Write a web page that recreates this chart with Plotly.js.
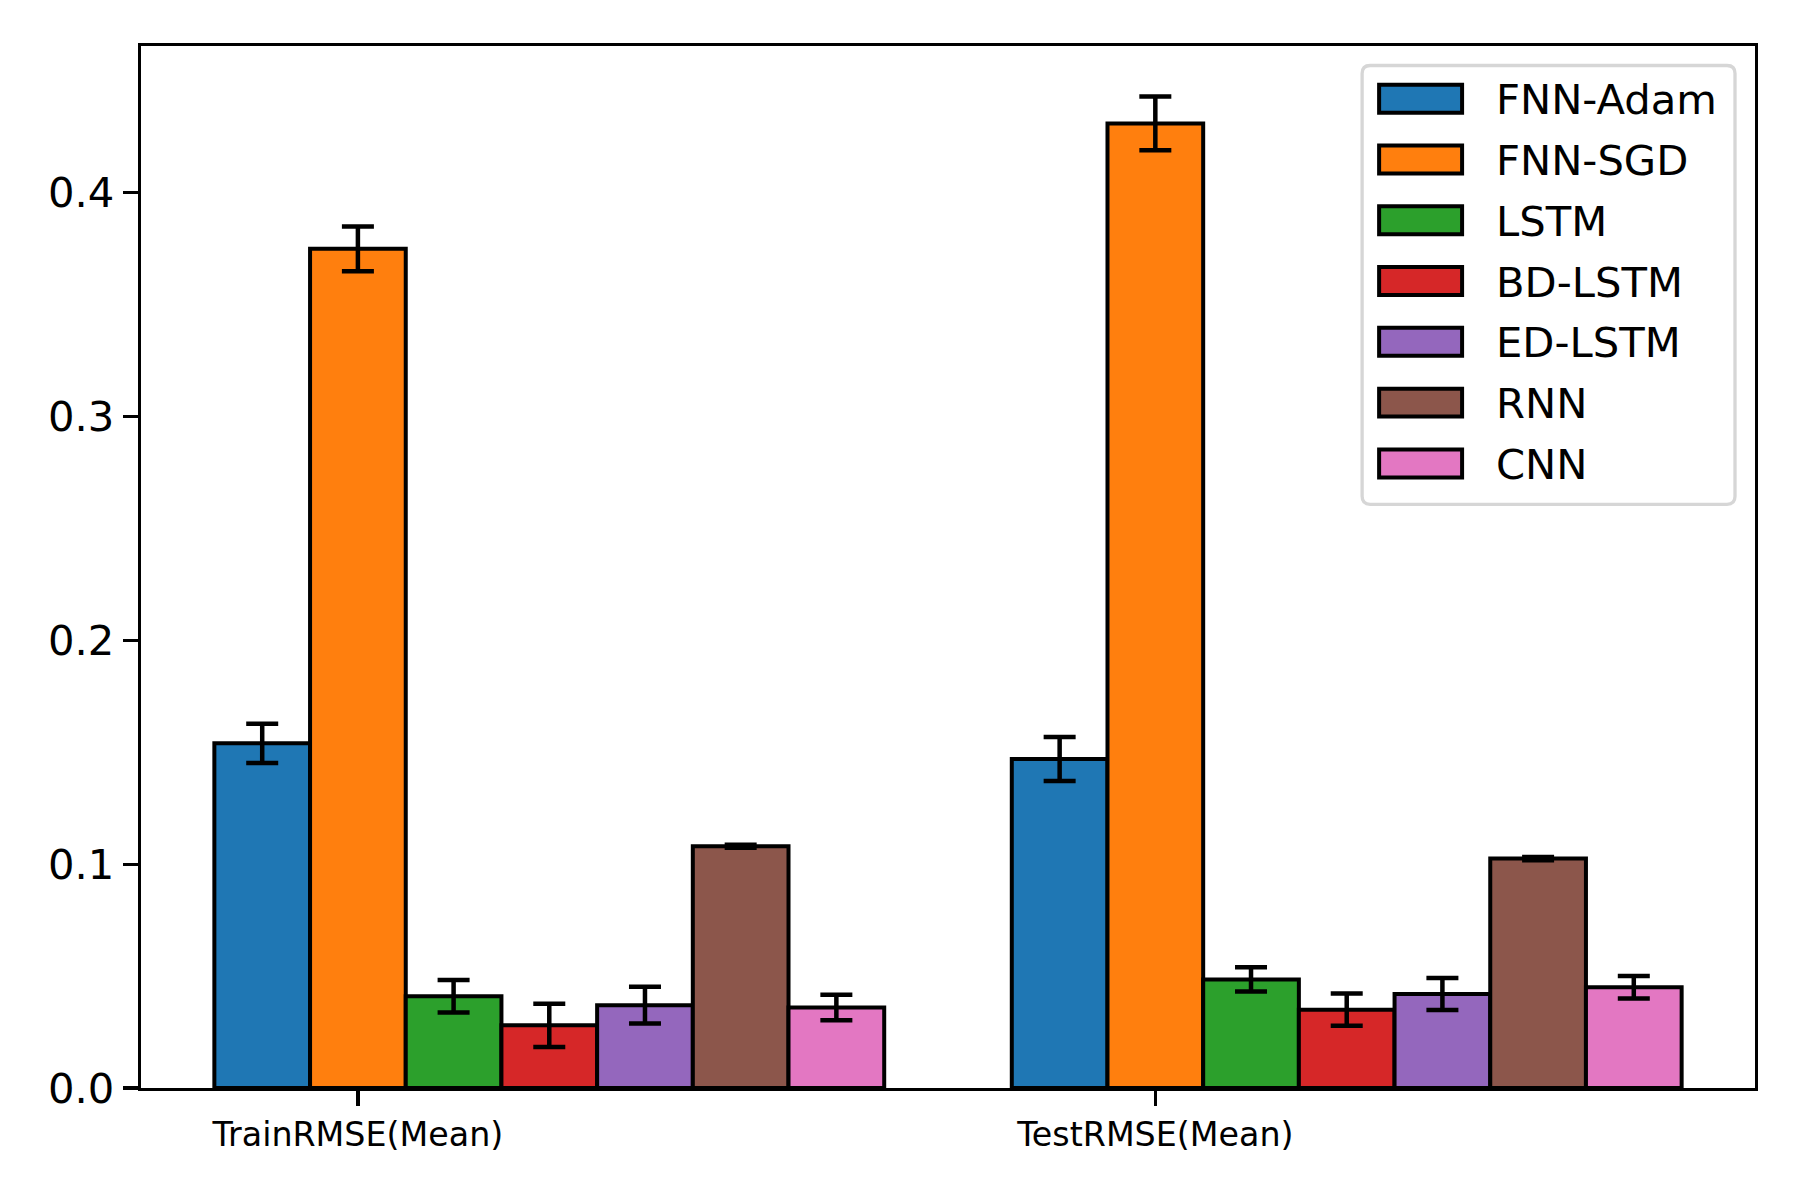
<!DOCTYPE html>
<html>
<head>
<meta charset="utf-8">
<script src="https://cdn.plot.ly/plotly-3.0.1.min.js"></script>
<style>html,body{margin:0;padding:0;background:#fff;}#chart{width:1800px;height:1200px;}</style>
</head>
<body>
<div id="chart"></div>
<script>
// ---- data ----
const categories = ['TrainRMSE(Mean)', 'TestRMSE(Mean)'];
const models = ['FNN-Adam', 'FNN-SGD', 'LSTM', 'BD-LSTM', 'ED-LSTM', 'RNN', 'CNN'];
const colors = ['#1f77b4', '#ff7f0e', '#2ca02c', '#d62728', '#9467bd', '#8c564b', '#e377c2'];
const trainMean = [0.154, 0.375, 0.041, 0.028, 0.037, 0.108, 0.036];
const trainErr  = [0.0088, 0.010, 0.0073, 0.0097, 0.0082, 0.0007, 0.0057];
const testMean  = [0.147, 0.431, 0.0485, 0.035, 0.042, 0.1025, 0.045];
const testErr   = [0.0098, 0.012, 0.0054, 0.0072, 0.0072, 0.0007, 0.0050];
const yTicks = [0, 0.1, 0.2, 0.3, 0.4];

// ---- layout constants ----
const W = 1800, H = 1200;
const L = 140.5, R = 1755, T = 45.5, B = 1088;
const barW = 0.12;
const FONT = 'DejaVu Sans, Verdana, sans-serif';

const traces = models.map((m, i) => ({
  type: 'bar',
  name: m,
  x: categories,
  y: [trainMean[i], testMean[i]],
  width: barW,
  offset: (i - 1.5) * barW,
  marker: {color: colors[i], line: {color: '#000', width: 4}},
  error_y: {type: 'data', array: [trainErr[i], testErr[i]], visible: true,
            color: '#000', thickness: 4.5, width: 16},
  showlegend: false
}));

// pixel -> paper helpers
const pw = R - L, ph = B - T;
const px = x => (x - L) / pw;
const py = y => (B - y) / ph;

const shapes = [];
const annotations = [];

// legend frame (rounded)
const lx0 = 1362, lx1 = 1735, ly0 = 65, ly1 = 504, r = 8;
const P = (x, y) => px(x) + ',' + py(y);
shapes.push({
  type: 'path', xref: 'paper', yref: 'paper',
  path: 'M' + P(lx0 + r, ly0) + ' L' + P(lx1 - r, ly0) + ' Q' + P(lx1, ly0) + ' ' + P(lx1, ly0 + r) +
        ' L' + P(lx1, ly1 - r) + ' Q' + P(lx1, ly1) + ' ' + P(lx1 - r, ly1) +
        ' L' + P(lx0 + r, ly1) + ' Q' + P(lx0, ly1) + ' ' + P(lx0, ly1 - r) +
        ' L' + P(lx0, ly0 + r) + ' Q' + P(lx0, ly0) + ' ' + P(lx0 + r, ly0) + ' Z',
  fillcolor: 'rgba(255,255,255,0.8)',
  line: {color: '#d6d6d6', width: 3.3}
});
models.forEach((m, i) => {
  const cy = 98.3 + i * 60.8;
  shapes.push({
    type: 'rect', xref: 'paper', yref: 'paper',
    x0: px(1379), x1: px(1462), y0: py(cy - 14), y1: py(cy + 14),
    fillcolor: colors[i], line: {color: '#000', width: 4}
  });
  annotations.push({
    xref: 'paper', yref: 'paper', x: px(1494), y: py(cy + 1),
    xanchor: 'left', yanchor: 'middle', showarrow: false,
    text: m, font: {family: FONT, size: 41.7, color: '#000'}
  });
});

const layout = {
  width: W, height: H,
  margin: {l: L, r: W - R, t: T, b: H - B, pad: 0},
  paper_bgcolor: '#fff', plot_bgcolor: '#fff',
  barmode: 'overlay',
  font: {family: FONT, color: '#000'},
  xaxis: {
    type: 'category',
    range: [-0.272, 1.752],
    showgrid: false, zeroline: false,
    showline: true, mirror: true, linecolor: '#000', linewidth: 3.3,
    ticks: 'outside', ticklen: 15, tickwidth: 3.3, tickcolor: '#000',
    tickfont: {family: FONT, size: 33.3, color: '#000'},
    fixedrange: true
  },
  yaxis: {
    range: [0, 0.4656],
    tickvals: yTicks, ticktext: yTicks.map(v => v.toFixed(1)),
    showgrid: false, zeroline: false,
    showline: true, mirror: true, linecolor: '#000', linewidth: 3.3,
    ticks: 'outside', ticklen: 15, tickwidth: 3.3, tickcolor: '#000',
    tickfont: {family: FONT, size: 41.7, color: '#000'},
    fixedrange: true
  },
  shapes: shapes,
  annotations: annotations,
  showlegend: false
};

Plotly.newPlot('chart', traces, layout, {displayModeBar: false, staticPlot: true});
</script>
</body>
</html>
